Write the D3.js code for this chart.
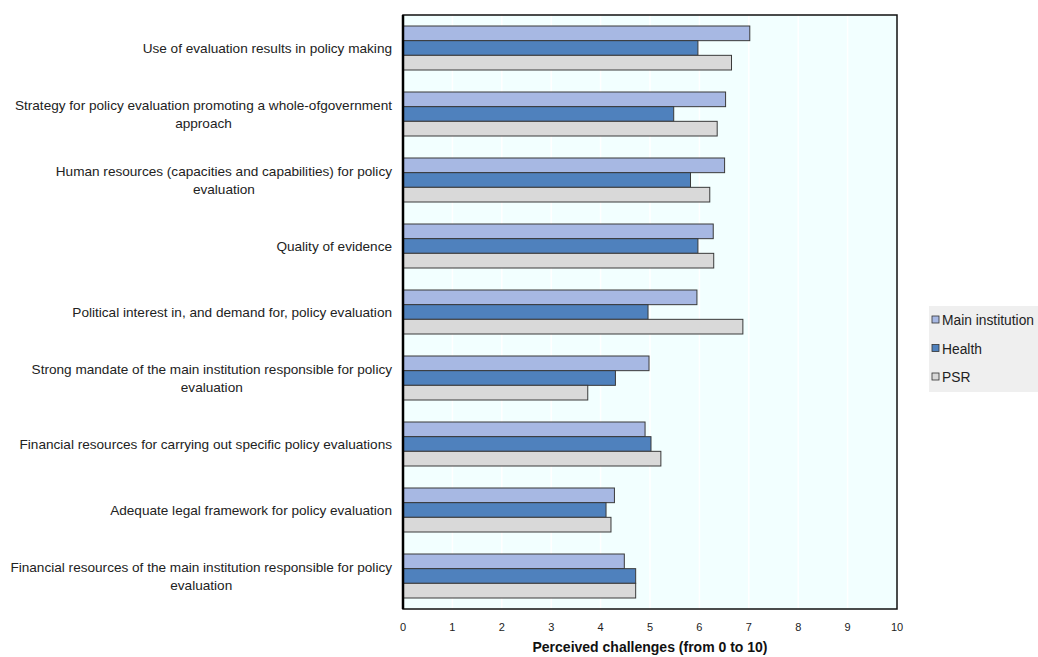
<!DOCTYPE html>
<html>
<head>
<meta charset="utf-8">
<script src="https://cdn.jsdelivr.net/npm/d3@7"></script>
<style>
  body { margin: 0; background: #fff; }
  text { font-family: "Liberation Sans", Arial, sans-serif; }
</style>
</head>
<body>
<div id="chart"></div>
<script>
// categories, top to bottom (each entry = lines of the label)
const categories = [
  ["Use of evaluation results in policy making"],
  ["Strategy for policy evaluation promoting a whole-ofgovernment", "approach"],
  ["Human resources (capacities and capabilities) for policy", "evaluation"],
  ["Quality of evidence"],
  ["Political interest in, and demand for, policy evaluation"],
  ["Strong mandate of the main institution responsible for policy", "evaluation"],
  ["Financial resources for carrying out specific policy evaluations"],
  ["Adequate legal framework for policy evaluation"],
  ["Financial resources of the main institution responsible for policy", "evaluation"]
];

const seriesNames = ["Main institution", "Health", "PSR"];
const mainValues   = [7.02, 6.53, 6.51, 6.28, 5.95, 4.98, 4.90, 4.28, 4.48];
const healthValues = [5.97, 5.48, 5.82, 5.97, 4.96, 4.30, 5.02, 4.11, 4.71];
const psrValues    = [6.65, 6.36, 6.21, 6.29, 6.88, 3.74, 5.22, 4.21, 4.71];
const xTicks = [0, 1, 2, 3, 4, 5, 6, 7, 8, 9, 10];

const colors = ["#a7b8e3", "#4f81bd", "#d9d9d9"];
const seriesValues = [mainValues, healthValues, psrValues];

const width = 1038, height = 657;
const plot = { left: 403, right: 897, top: 15, bottom: 609 };

const svg = d3.select("#chart").append("svg")
    .attr("width", width).attr("height", height);

const x = d3.scaleLinear().domain([0, 10]).range([plot.left, plot.right]);
const y = d3.scaleBand().domain(d3.range(categories.length))
    .range([plot.top, plot.bottom]).paddingInner(1 / 3).paddingOuter(1 / 6);
const ySub = d3.scaleBand().domain(d3.range(3)).range([0, y.bandwidth()]);

// plot background
svg.append("rect")
    .attr("x", plot.left).attr("y", plot.top)
    .attr("width", plot.right - plot.left).attr("height", plot.bottom - plot.top)
    .attr("fill", "#f2ffff");

// vertical gridlines
svg.append("g").selectAll("line")
    .data(xTicks.slice(1, -1))
    .join("line")
    .attr("x1", d => x(d)).attr("x2", d => x(d))
    .attr("y1", plot.top).attr("y2", plot.bottom)
    .attr("stroke", "#ffffff").attr("stroke-width", 1.5);

// bars
const groups = svg.append("g").selectAll("g")
    .data(categories.map((c, i) => i))
    .join("g")
    .attr("transform", i => `translate(0,${y(i)})`);

groups.selectAll("rect")
    .data(i => seriesValues.map((vals, s) => ({ s, v: vals[i] })))
    .join("rect")
    .attr("x", x(0))
    .attr("y", d => ySub(d.s))
    .attr("width", d => x(d.v) - x(0))
    .attr("height", ySub.bandwidth())
    .attr("fill", d => colors[d.s])
    .attr("stroke", "#3a3a3a")
    .attr("stroke-width", 1);

// frame
svg.append("rect")
    .attr("x", plot.left).attr("y", plot.top)
    .attr("width", plot.right - plot.left).attr("height", plot.bottom - plot.top)
    .attr("fill", "none").attr("stroke", "#111").attr("stroke-width", 1.5);

svg.append("line")
    .attr("x1", plot.left).attr("x2", plot.left)
    .attr("y1", plot.top).attr("y2", plot.bottom)
    .attr("stroke", "#000").attr("stroke-width", 2.5);

// x axis tick labels
svg.append("g").selectAll("text")
    .data(xTicks)
    .join("text")
    .attr("x", d => x(d)).attr("y", 631)
    .attr("text-anchor", "middle")
    .attr("font-size", 11)
    .attr("fill", "#222")
    .text(d => d);

svg.append("text")
    .attr("x", (plot.left + plot.right) / 2).attr("y", 652)
    .attr("text-anchor", "middle")
    .attr("font-family", "Lato, sans-serif")
    .attr("font-weight", "bold")
    .attr("font-size", 14)
    .attr("fill", "#111")
    .text("Perceived challenges (from 0 to 10)");

// category labels: block right-aligned, lines centered within block
const labelRight = 392;
const lineH = 18;
categories.forEach((lines, i) => {
  const g = svg.append("g");
  const cy = y(i) + y.bandwidth() / 2;
  const texts = lines.map((ln, k) => g.append("text")
      .attr("y", cy + (k - (lines.length - 1) / 2) * lineH + 5)
      .attr("font-size", 13.6)
      .attr("fill", "#222")
      .attr("text-anchor", "middle")
      .text(ln));
  const maxW = d3.max(texts, t => t.node().getComputedTextLength());
  texts.forEach(t => t.attr("x", labelRight - maxW / 2));
});

// legend
const legend = svg.append("g");
legend.append("rect")
    .attr("x", 929).attr("y", 306)
    .attr("width", 120).attr("height", 86)
    .attr("fill", "#efefef");

const legendY = d3.scalePoint().domain(seriesNames).range([320, 377]);
const items = legend.selectAll("g.item")
    .data(seriesNames)
    .join("g")
    .attr("class", "item")
    .attr("transform", d => `translate(932,${legendY(d)})`);

items.append("rect")
    .attr("x", 0).attr("y", -4)
    .attr("width", 7).attr("height", 7)
    .attr("fill", (d, i) => colors[i])
    .attr("stroke", "#333").attr("stroke-width", 0.8);

items.append("text")
    .attr("x", 10).attr("y", 5)
    .attr("font-size", 13.8)
    .attr("fill", "#222")
    .text(d => d);
</script>
</body>
</html>
